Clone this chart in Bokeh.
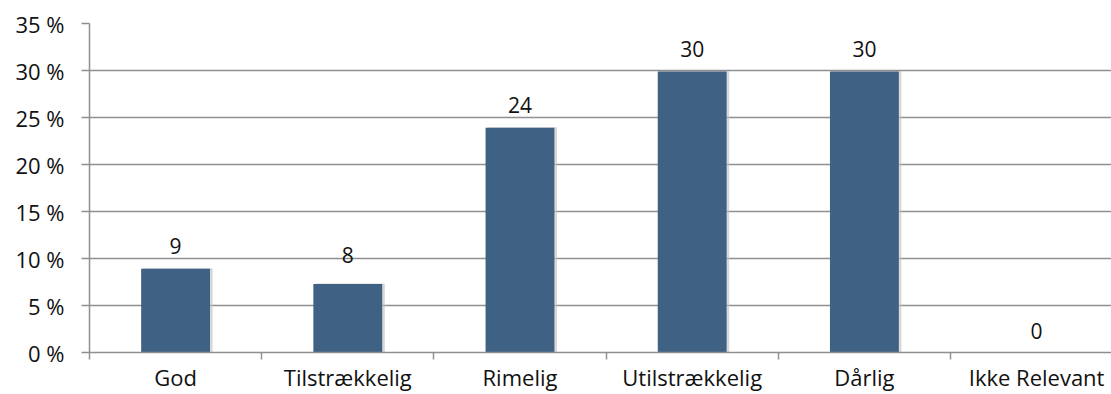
from bokeh.plotting import figure
from bokeh.models import ColumnDataSource, Range1d, FixedTicker
from bokeh.core.properties import value
from bokeh.embed import file_html
from bokeh.resources import INLINE

categories = ["God", "Tilstrækkelig", "Rimelig", "Utilstrækkelig", "Dårlig", "Ikke Relevant"]
percent = [8.9, 7.3, 23.9, 29.9, 29.9, 0.0]
label_values = [9, 8, 24, 30, 30, 0]
y_ticks = [0, 5, 10, 15, 20, 25, 30, 35]

FONT = "Open Sans"
GRID = "#8f8f8f"
BAR = "#3f6184"
TXT = "#111111"

xs = [i + 0.5 for i in range(len(categories))]
src = ColumnDataSource(dict(x=xs, top=percent, lab=[str(v) for v in label_values],
                            laby=label_values, xs=[x + 0.012 for x in xs]))

p = figure(width=1111, height=394, output_backend="svg", toolbar_location=None,
           x_range=Range1d(0, 5.935), y_range=Range1d(0, 35),
           min_border_left=89, min_border_right=0, min_border_top=23, min_border_bottom=42)
p.outline_line_color = None

# subtle shadow and bars
p.vbar(x="xs", top="top", width=0.40, bottom=0, source=src, color="#c4c4c4", alpha=0.6)
p.vbar(x="x", top="top", width=0.40, bottom=0, source=src, color=BAR, line_color=None)

# value labels above bars
p.text(x="x", y="laby", text="lab", source=src, text_align="center", text_baseline="middle",
       y_offset=-22, text_font=value(FONT), text_font_size="21px", text_color=TXT)

# y axis
p.yaxis.ticker = FixedTicker(ticks=y_ticks)
p.yaxis.major_label_overrides = {t: f"{t} %" for t in y_ticks}
p.yaxis.major_label_text_font = FONT
p.yaxis.major_label_text_font_size = "22px"
p.yaxis.major_label_text_color = TXT
p.yaxis.axis_line_color = GRID
p.yaxis.axis_line_width = 1.5
p.yaxis.major_tick_line_color = GRID
p.yaxis.major_tick_line_width = 1.5
p.yaxis.major_tick_out = 8
p.yaxis.major_tick_in = 0
p.yaxis.minor_tick_line_color = None
p.yaxis.major_label_standoff = 17

# x axis: labels at category centres, tick marks at category boundaries
p.xaxis.ticker = FixedTicker(ticks=xs, minor_ticks=list(range(len(categories) + 1)))
p.xaxis.major_label_overrides = {x: c for x, c in zip(xs, categories)}
p.xaxis.major_label_text_font = FONT
p.xaxis.major_label_text_font_size = "22px"
p.xaxis.major_label_text_color = TXT
p.xaxis.major_tick_line_color = None
p.xaxis.major_tick_out = 0
p.xaxis.major_tick_in = 0
p.xaxis.minor_tick_line_color = GRID
p.xaxis.minor_tick_line_width = 1.5
p.xaxis.minor_tick_out = 7
p.xaxis.minor_tick_in = 0
p.xaxis.axis_line_color = GRID
p.xaxis.axis_line_width = 1.5
p.xaxis.major_label_standoff = 2

p.xgrid.grid_line_color = None
p.ygrid.grid_line_color = GRID
p.ygrid.grid_line_width = 1.5

open("out.html", "w").write(file_html(p, INLINE))
